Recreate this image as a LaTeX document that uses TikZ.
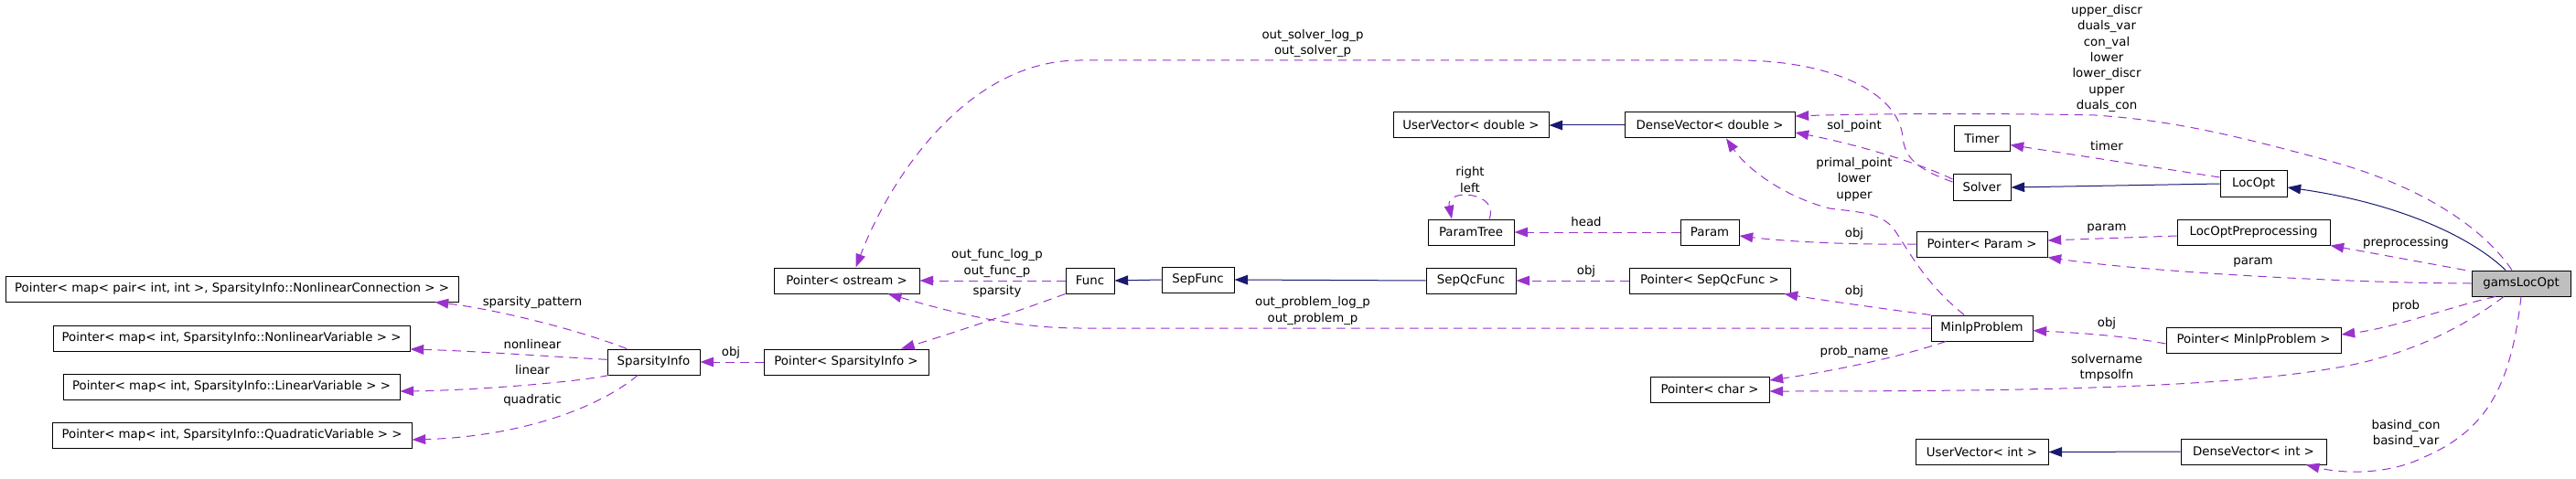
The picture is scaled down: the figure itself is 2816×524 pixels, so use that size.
\documentclass[tikz,border=0pt]{standalone}
\usepackage{fontspec}
\setmainfont{DejaVu Sans}
\usepackage{tikz}
\usetikzlibrary{arrows.meta}
\definecolor{usecol}{HTML}{9A32CD}
\definecolor{isacol}{HTML}{191970}
\definecolor{boxgray}{HTML}{BFBFBF}

\begin{document}
\begin{tikzpicture}
[x=0.75pt,y=-0.75pt]
\tikzset{cls/.style={draw, line width=0.75pt, minimum height=21pt, inner xsep=1pt, inner ysep=0pt, font=\fontsize{10}{12}\selectfont}}
\tikzset{lbl/.style={align=center, inner sep=0pt, font=\fontsize{10}{13}\selectfont}}
\tikzset{use/.style={draw=usecol, line width=0.75pt, dash pattern=on 7pt off 5pt, -{Triangle[length=11pt,width=8pt]}, usecol}}
\tikzset{isa/.style={draw=isacol, line width=0.75pt, -{Triangle[length=11pt,width=8pt]}, isacol}}
\useasboundingbox (0,0) rectangle (2816,524);
\node [cls, minimum width=371.25pt] (nc) at (253.5,316) {Pointer< map< pair< int, int >, SparsityInfo::NonlinearConnection > >};
\node [cls, minimum width=292.5pt] (nv) at (253,370) {Pointer< map< int, SparsityInfo::NonlinearVariable > >};
\node [cls, minimum width=276pt] (lv) at (253,423) {Pointer< map< int, SparsityInfo::LinearVariable > >};
\node [cls, minimum width=294.75pt] (qv) at (253.5,476) {Pointer< map< int, SparsityInfo::QuadraticVariable > >};
\node [cls, minimum width=75.75pt] (spinfo) at (714.5,396) {SparsityInfo};
\node [cls, minimum width=135pt] (ptrspinfo) at (925,396) {Pointer< SparsityInfo >};
\node [cls, minimum width=119.25pt] (ptrostream) at (925.5,307) {Pointer< ostream >};
\node [cls, minimum width=39.75pt] (func) at (1191.5,307) {Func};
\node [cls, minimum width=59.25pt] (sepfunc) at (1309.5,306) {SepFunc};
\node [cls, minimum width=127.5pt] (uvd) at (1608,137) {UserVector< double >};
\node [cls, minimum width=139.5pt] (dvd) at (1869,137) {DenseVector< double >};
\node [cls, minimum width=70.5pt] (paramtree) at (1608,254) {ParamTree};
\node [cls, minimum width=48pt] (param) at (1869,254) {Param};
\node [cls, minimum width=73.5pt] (sepqc) at (1608,307) {SepQcFunc};
\node [cls, minimum width=132pt] (ptrsepqc) at (1869,307) {Pointer< SepQcFunc >};
\node [cls, minimum width=97.5pt] (ptrchar) at (1869,426) {Pointer< char >};
\node [cls, minimum width=45.75pt] (timer) at (2166.5,151.5) {Timer};
\node [cls, minimum width=47.25pt] (solver) at (2166.5,205) {Solver};
\node [cls, minimum width=107.25pt] (ptrparam) at (2166.5,267) {Pointer< Param >};
\node [cls, minimum width=83.25pt] (minlp) at (2166.5,359) {MinlpProblem};
\node [cls, minimum width=108.75pt] (uvi) at (2166.5,494.5) {UserVector< int >};
\node [cls, minimum width=54.75pt] (locopt) at (2463.5,201) {LocOpt};
\node [cls, minimum width=125.25pt] (locoptpre) at (2463.5,254) {LocOptPreprocessing};
\node [cls, minimum width=143.25pt] (ptrminlp) at (2463.5,372) {Pointer< MinlpProblem >};
\node [cls, minimum width=119.25pt] (dvi) at (2463.5,494) {DenseVector< int >};
\node [cls, minimum width=81pt, fill=boxgray] (gams) at (2756,310) {gamsLocOpt};

\node [lbl] (l1) at (582,331) {sparsity\_pattern};
\node [lbl] (l2) at (582,377) {nonlinear};
\node [lbl] (l3) at (582,405) {linear};
\node [lbl] (l4) at (582,438) {quadratic};
\node [lbl] (l5) at (799,386) {obj};
\node [lbl] (l6) at (1090,288) {out\_func\_log\_p\\out\_func\_p};
\node [lbl] (l7) at (1090,319) {sparsity};
\node [lbl] (l8) at (1435,340) {out\_problem\_log\_p\\out\_problem\_p};
\node [lbl] (l9) at (1435,47.5) {out\_solver\_log\_p\\out\_solver\_p};
\node [lbl] (l10) at (1607,196.5) {right\\left};
\node [lbl] (l11) at (1734,243) {head};
\node [lbl] (l12) at (1734,297) {obj};
\node [lbl] (l13) at (2027,138) {sol\_point};
\node [lbl] (l14) at (2027,196) {primal\_point\\lower\\upper};
\node [lbl] (l15) at (2027,256) {obj};
\node [lbl] (l16) at (2027,319) {obj};
\node [lbl] (l17) at (2027,385) {prob\_name};
\node [lbl] (l18) at (2303,64) {upper\_discr\\duals\_var\\con\_val\\lower\\lower\_discr\\upper\\duals\_con};
\node [lbl] (l19) at (2303,160) {timer};
\node [lbl] (l20) at (2303,250) {param};
\node [lbl] (l21) at (2303,354) {obj};
\node [lbl] (l22) at (2303,402.5) {solvername\\tmpsolfn};
\node [lbl] (l23) at (2630,266) {preprocessing};
\node [lbl] (l24) at (2463,287) {param};
\node [lbl] (l25) at (2630,335) {prob};
\node [lbl] (l26) at (2630,474.5) {basind\_con\\basind\_var};

% inheritance
\foreach \from/\to in {dvd/uvd,sepfunc/func,sepqc/sepfunc,locopt/solver,dvi/uvi}
	\draw [isa] (\from.west) -- (\to.east);
\draw [isa] ([xshift=-12.75pt]gams.north) .. controls (2700,258) and (2620,222) .. ([yshift=-3pt]locopt.east);

% usage
\foreach \from/\to in {ptrspinfo/spinfo,func/ptrostream,ptrsepqc/sepqc,param/paramtree}
	\draw [use] (\from.west) -- (\to.east);
\draw [use] ([xshift=-22pt]spinfo.north) .. controls (630,360) and (540,338) .. ([xshift=-19.5pt]nc.south east);
\draw [use] ([yshift=2pt]spinfo.west) .. controls (600,390) and (520,384) .. ([yshift=-9pt]nv.east);
\draw [use] ([xshift=1.5pt]spinfo.south west) .. controls (630,418) and (520,427) .. ([yshift=-3.75pt]lv.east);
\draw [use] ([xshift=-13pt]spinfo.south) .. controls (650,450) and (560,478) .. ([yshift=-3.75pt]qv.east);
\draw [use] (func.south west) .. controls (1120,338) and (1040,365) .. ([xshift=45pt]ptrspinfo.north);
\draw [use] (minlp.west) -- (1180,359) .. controls (1110,359) and (1045,343) .. ([xshift=-26pt]ptrostream.south east);
\draw [use] ([yshift=4.5pt]solver.west) .. controls (2095,185) and (2082,172) .. (2080,150)
	.. controls (2075,100) and (2000,66) .. (1900,66) -- (1180,66)
	.. controls (1060,66) and (975,190) .. ([xshift=7.5pt]ptrostream.north);
\draw [use] ([xshift=15pt]paramtree.north) .. controls (1640,210) and (1580,205) .. ([xshift=-15.75pt]paramtree.north);
\draw [use] (ptrparam.west) .. controls (2020,268) and (1950,264) .. ([yshift=-3pt]param.east);
\draw [use] (minlp.north west) .. controls (2060,338) and (1990,328) .. ([xshift=-5.25pt]ptrsepqc.south east);
\draw [use] ([xshift=-14.5pt]minlp.north) .. controls (2105,310) and (2090,280) .. (2070,250)
	.. controls (2055,232) and (2030,232) .. (2000,228)
	.. controls (1950,215) and (1910,185) .. ([xshift=13.5pt]dvd.south);
\draw [use] ([xshift=-29.5pt]minlp.south) .. controls (2070,393) and (1990,408) .. ([yshift=7.5pt]ptrchar.east);
\draw [use] ([xshift=-14.25pt]gams.south) .. controls (2690,360) and (2630,390) .. (2550,403)
	.. controls (2420,425) and (2200,428) .. ([yshift=-1.5pt]ptrchar.east);
\draw [use] ([xshift=-21pt]gams.south) .. controls (2680,335) and (2620,358) .. ([yshift=4.5pt]ptrminlp.east);
\draw [use] ([yshift=-3pt]ptrminlp.west) .. controls (2320,367) and (2270,364) .. ([yshift=-2pt]minlp.east);
\draw [use] (gams.west) .. controls (2580,310) and (2350,298) .. (ptrparam.south east);
\draw [use] ([yshift=-3pt]locoptpre.west) -- ([yshift=3pt]ptrparam.east);
\draw [use] ([xshift=-5pt]gams.north west) -- (locoptpre.south east);
\draw [use] ([yshift=5.25pt]locopt.west) -- ([yshift=-5.25pt]timer.east);
\draw [use] ([xshift=-7.5pt]gams.north) .. controls (2715,250) and (2650,205) .. (2550,177)
	.. controls (2450,150) and (2380,132) .. (2290,126)
	.. controls (2200,124) and (2050,124) .. ([yshift=7.5pt]dvd.east);
\draw [use] ([yshift=6.75pt]solver.west) .. controls (2090,175) and (2020,156) .. ([yshift=-6pt]dvd.east);
\draw [use] (gams.south) .. controls (2745,420) and (2720,470) .. (2650,500)
	.. controls (2610,520) and (2560,518) .. ([xshift=-17pt]dvi.south east);
\end{tikzpicture}
\end{document}
